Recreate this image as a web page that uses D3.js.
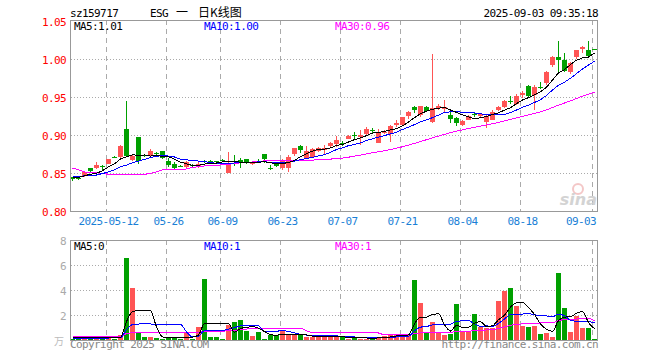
<!DOCTYPE html>
<html>
<head>
<meta charset="utf-8">
<script src="https://cdn.jsdelivr.net/npm/d3@7"></script>
<style>
  body { margin: 0; background: #fff; }
  svg { display: block; }
  text { font-family: "DejaVu Sans Mono", monospace; font-size: 11px; letter-spacing: -0.6px; }
</style>
</head>
<body>
<svg id="chart" width="660" height="360"></svg>
<script>
// trading days shown on the chart
const dates = [
  "2025-04-29","2025-04-30","2025-05-06","2025-05-07","2025-05-08","2025-05-09",
  "2025-05-12","2025-05-13","2025-05-14","2025-05-15","2025-05-16",
  "2025-05-19","2025-05-20","2025-05-21","2025-05-22","2025-05-23",
  "2025-05-26","2025-05-27","2025-05-28","2025-05-29","2025-05-30",
  "2025-06-03","2025-06-04","2025-06-05","2025-06-06",
  "2025-06-09","2025-06-10","2025-06-11","2025-06-12","2025-06-13",
  "2025-06-16","2025-06-17","2025-06-18","2025-06-19","2025-06-20",
  "2025-06-23","2025-06-24","2025-06-25","2025-06-26","2025-06-27",
  "2025-06-30","2025-07-01","2025-07-02","2025-07-03","2025-07-04",
  "2025-07-07","2025-07-08","2025-07-09","2025-07-10","2025-07-11",
  "2025-07-14","2025-07-15","2025-07-16","2025-07-17","2025-07-18",
  "2025-07-21","2025-07-22","2025-07-23","2025-07-24","2025-07-25",
  "2025-07-28","2025-07-29","2025-07-30","2025-07-31","2025-08-01",
  "2025-08-04","2025-08-05","2025-08-06","2025-08-07","2025-08-08",
  "2025-08-11","2025-08-12","2025-08-13","2025-08-14","2025-08-15",
  "2025-08-18","2025-08-19","2025-08-20","2025-08-21","2025-08-22",
  "2025-08-25","2025-08-26","2025-08-27","2025-08-28","2025-08-29",
  "2025-09-01","2025-09-02","2025-09-03"
];

const open = [
  0.845,0.844,0.847,0.857,0.857,0.860,0.862,0.872,0.872,0.909,
  0.868,0.898,0.874,0.874,0.877,0.879,0.867,0.863,0.860,0.858,
  0.861,0.858,0.867,0.867,0.866,0.868,0.851,0.866,0.868,0.869,
  0.862,0.867,0.876,0.857,0.862,0.857,0.858,0.875,0.886,0.870,
  0.872,0.880,0.882,0.886,0.889,0.890,0.896,0.901,0.899,0.903,
  0.907,0.891,0.904,0.901,0.914,0.914,0.926,0.937,0.927,0.938,
  0.918,0.936,0.935,0.927,0.923,0.914,0.921,0.928,0.925,0.918,
  0.921,0.933,0.937,0.945,0.942,0.953,0.965,0.953,0.964,0.968,
  0.992,1.003,1.000,0.984,1.003,1.014,1.013,1.014
];
const high = [
  0.845,0.845,0.853,0.857,0.865,0.861,0.869,0.873,0.888,0.946,
  0.874,0.898,0.875,0.882,0.878,0.880,0.870,0.865,0.861,0.866,
  0.862,0.866,0.868,0.868,0.867,0.869,0.878,0.874,0.871,0.869,
  0.866,0.869,0.876,0.861,0.863,0.869,0.874,0.884,0.888,0.886,
  0.883,0.885,0.887,0.892,0.900,0.893,0.901,0.904,0.907,0.911,
  0.910,0.909,0.907,0.914,0.920,0.924,0.932,0.939,0.939,0.939,
  1.007,0.941,0.947,0.933,0.925,0.920,0.927,0.929,0.929,0.927,
  0.933,0.939,0.947,0.952,0.954,0.959,0.966,0.966,0.971,0.985,
  1.004,1.024,1.008,0.997,1.013,1.018,1.024,1.014
];
const low = [
  0.840,0.842,0.846,0.852,0.856,0.855,0.862,0.870,0.871,0.872,
  0.866,0.862,0.872,0.873,0.874,0.869,0.859,0.855,0.858,0.857,
  0.858,0.857,0.864,0.864,0.864,0.865,0.851,0.860,0.857,0.862,
  0.861,0.864,0.864,0.854,0.858,0.854,0.852,0.873,0.877,0.869,
  0.870,0.878,0.874,0.885,0.885,0.886,0.895,0.896,0.888,0.901,
  0.902,0.890,0.902,0.891,0.911,0.913,0.922,0.930,0.925,0.932,
  0.917,0.933,0.931,0.917,0.913,0.913,0.920,0.925,0.924,0.910,
  0.920,0.932,0.936,0.941,0.940,0.949,0.950,0.934,0.961,0.967,
  0.990,0.982,0.984,0.981,1.001,1.008,1.002,1.012
];
const close = [
  0.843,0.843,0.852,0.853,0.861,0.859,0.869,0.871,0.886,0.874,
  0.873,0.866,0.873,0.879,0.876,0.870,0.862,0.858,0.859,0.865,
  0.860,0.862,0.866,0.866,0.865,0.867,0.864,0.865,0.864,0.864,
  0.865,0.866,0.869,0.856,0.859,0.866,0.872,0.883,0.881,0.879,
  0.882,0.884,0.884,0.890,0.894,0.889,0.900,0.900,0.901,0.909,
  0.906,0.905,0.905,0.912,0.917,0.924,0.931,0.933,0.939,0.933,
  0.936,0.939,0.938,0.922,0.917,0.919,0.926,0.927,0.928,0.926,
  0.931,0.937,0.945,0.944,0.952,0.956,0.952,0.964,0.963,0.983,
  1.003,0.999,0.986,0.996,1.012,1.017,1.005,1.013
];
// volume, in 万
const volume = [
  0.16,0.16,0.16,0.35,0.35,0.16,0.20,0.16,0.43,6.59,
  4.19,0.59,0.27,0.27,0.19,0.13,0.27,0.27,0.16,0.56,
  0.13,1.09,4.91,0.27,0.27,0.13,1.23,1.49,1.65,0.77,
  0.35,0.69,0.13,0.48,0.45,0.77,0.40,0.40,0.40,0.29,
  0.29,0.29,0.29,0.29,0.29,0.29,0.11,0.29,0.16,0.16,
  0.16,0.29,0.35,0.48,0.53,0.43,0.43,4.83,3.01,0.67,
  1.47,0.67,0.48,0.51,2.91,0.72,0.72,2.11,1.07,0.99,
  0.99,3.17,3.95,4.24,2.75,1.15,1.07,1.20,0.51,0.59,
  0.27,5.39,2.59,0.67,1.95,0.99,0.99,0.11
];

// averages before a full window is available (history lies left of the chart)
const ma5Head = [0.845, 0.845, 0.847, 0.849];
const ma10Head = [0.846, 0.846, 0.847, 0.847, 0.848, 0.850, 0.852, 0.855, 0.859];
const ma30Head = [
  0.857,0.855,0.852,0.851,0.851,0.850,0.849,0.849,0.849,0.849,
  0.849,0.849,0.849,0.850,0.852,0.855,0.855,0.855,0.855,0.856,
  0.858,0.859,0.860,0.860,0.860,0.862,0.862,0.863,0.864
];
const volMa5Head = [0.22, 0.22, 0.22, 0.24];
const volMa10Head = [0.20, 0.20, 0.20, 0.20, 0.20, 0.20, 0.20, 0.21, 0.22];
const volMa30Head = [
  0.33,0.33,0.33,0.33,0.33,0.33,0.33,0.33,0.33,0.55,
  0.61,0.61,0.61,0.61,0.61,0.61,0.61,0.61,0.61,0.61,
  0.61,0.64,0.75,0.75,0.75,0.75,0.78,0.82,0.87
];

const priceTicks = [0.80, 0.85, 0.90, 0.95, 1.00, 1.05];
const volTicks = [2, 4, 6, 8];
const tickDates = ["2025-05-12","2025-05-26","2025-06-09","2025-06-23","2025-07-07",
                   "2025-07-21","2025-08-04","2025-08-18","2025-09-03"];

const RED = "#ff5555", GREEN = "#00a000";
const GRID = "#aaaaaa";

const movingAvg = (values, n, head) =>
  values.map((v, i) => i < n - 1 ? head[i] : d3.mean(values.slice(i - n + 1, i + 1)));

const ma5 = movingAvg(close, 5, ma5Head);
const ma10 = movingAvg(close, 10, ma10Head);
const ma30 = movingAvg(close, 30, ma30Head);
const vma5 = movingAvg(volume, 5, volMa5Head);
const vma10 = movingAvg(volume, 10, volMa10Head);
const vma30 = movingAvg(volume, 30, volMa30Head);

const svg = d3.select("#chart");

const x = d3.scaleBand().domain(dates).range([69, 597]);
const y = d3.scaleLinear().domain([0.80, 1.05]).range([211.5, 21.5]);
const yv = d3.scaleLinear().domain([0, 8]).range([340.5, 240.5]);

const defs = svg.append("defs");
defs.append("clipPath").attr("id", "clipPrice")
  .append("rect").attr("x", 71).attr("y", 21).attr("width", 526).attr("height", 190);
defs.append("clipPath").attr("id", "clipVol")
  .append("rect").attr("x", 71).attr("y", 241).attr("width", 526).attr("height", 99);

// header
svg.append("text").attr("x", 70).attr("y", 17).text("sz159717");
svg.append("text").attr("x", 150).attr("y", 17).text("ESG");
svg.append("text").attr("x", 176).attr("y", 17)
  .style("font-family", "'Noto Sans CJK SC'").style("font-size", "12px").style("letter-spacing", "0")
  .text("一");
svg.append("text").attr("x", 198).attr("y", 17)
  .style("font-family", "'Noto Sans CJK SC'").style("font-size", "12px").style("letter-spacing", "0")
  .text("日K线图");
svg.append("text").attr("x", 598).attr("y", 17).attr("text-anchor", "end").text("2025-09-03 09:35:18");

// horizontal dotted grid
svg.append("g").selectAll("line").data(priceTicks.slice(1, -1)).join("line")
  .attr("x1", 71).attr("x2", 597).attr("y1", d => y(d)).attr("y2", d => y(d))
  .attr("stroke", GRID).attr("stroke-dasharray", "1,2");
svg.append("g").selectAll("line").data(volTicks.slice(0, -1)).join("line")
  .attr("x1", 71).attr("x2", 597).attr("y1", d => yv(d)).attr("y2", d => yv(d))
  .attr("stroke", GRID).attr("stroke-dasharray", "1,2");

// vertical dashed grid at the date ticks
const vgrid = svg.append("g");
[[20, 211], [240, 340]].forEach(([y1, y2]) => {
  vgrid.append("g").selectAll("line").data(tickDates).join("line")
    .attr("x1", d => x(d) + 1.5).attr("x2", d => x(d) + 1.5)
    .attr("y1", y1).attr("y2", y2)
    .attr("stroke", GRID).attr("stroke-dasharray", "5,4");
});

// watermark
const wm = svg.append("g").attr("opacity", 0.9);
wm.append("circle").attr("cx", 578).attr("cy", 189).attr("r", 5)
  .attr("fill", "none").attr("stroke", "#f3c2c2").attr("stroke-width", 2);
wm.append("text").attr("x", 597).attr("y", 205).attr("text-anchor", "end")
  .style("font-family", "'DejaVu Sans'").style("font-size", "16px").style("font-weight", "bold")
  .style("font-style", "italic").style("letter-spacing", "0").attr("fill", "#cfcfcf").text("sina");

// panel borders
svg.append("rect").attr("x", 70.5).attr("y", 20.5).attr("width", 527).attr("height", 191)
  .attr("fill", "none").attr("stroke", "#999");
svg.append("rect").attr("x", 70.5).attr("y", 240.5).attr("width", 527).attr("height", 100)
  .attr("fill", "none").attr("stroke", "#999");

// price axis labels
svg.append("g").selectAll("text").data(priceTicks).join("text")
  .attr("x", 66).attr("y", d => y(d) + 4).attr("text-anchor", "end")
  .attr("fill", "#ff0000").text(d => d.toFixed(2));

// volume axis labels
svg.append("g").selectAll("text").data(volTicks).join("text")
  .attr("x", 66).attr("y", d => yv(d) + 4).attr("text-anchor", "end")
  .attr("fill", "#aaa").text(d => d);
svg.append("text").attr("x", 64).attr("y", 345).attr("text-anchor", "end")
  .style("font-family", "'Noto Sans CJK SC'").style("font-size", "10px").style("letter-spacing", "0")
  .attr("fill", "#bbb").text("万");

// date labels (the last one is kept inside the panel)
const lastTick = tickDates.length - 1;
svg.append("g").selectAll("text").data(tickDates).join("text")
  .attr("x", (d, i) => i === lastTick ? 596 : x(d) + 3.5).attr("y", 225)
  .attr("text-anchor", (d, i) => i === lastTick ? "end" : "middle")
  .attr("fill", "#1a7fd6").text((d, i) => i === 0 ? d : d.slice(5));

// candles
const idx = d3.range(dates.length);
const candles = svg.append("g").attr("clip-path", "url(#clipPrice)")
  .attr("shape-rendering", "crispEdges");
const colorOf = i => close[i] >= open[i] ? RED : GREEN;
candles.selectAll("line").data(idx).join("line")
  .attr("x1", i => x(dates[i]) + 3.5).attr("x2", i => x(dates[i]) + 3.5)
  .attr("y1", i => y(high[i])).attr("y2", i => y(low[i]))
  .attr("stroke", colorOf);
candles.selectAll("rect").data(idx).join("rect")
  .attr("x", i => x(dates[i]) + 1).attr("width", 5)
  .attr("y", i => Math.round(y(Math.max(open[i], close[i]))))
  .attr("height", i => Math.max(1, Math.round(Math.abs(y(open[i]) - y(close[i])))))
  .attr("fill", colorOf);

// price moving averages
const priceLine = d3.line().x((d, i) => x(dates[i]) + 3.5).y(d => y(d));
const maG = svg.append("g").attr("clip-path", "url(#clipPrice)").attr("fill", "none")
  .attr("shape-rendering", "crispEdges");
[[ma30, "#ff00ff"], [ma10, "#0000ff"], [ma5, "#000000"]].forEach(([vals, c]) => {
  maG.append("path").attr("d", priceLine(vals)).attr("stroke", c).attr("stroke-width", 1);
});

// volume bars
svg.append("g").attr("clip-path", "url(#clipVol)").attr("shape-rendering", "crispEdges")
  .selectAll("rect").data(idx).join("rect")
  .attr("x", i => x(dates[i]) + 1).attr("width", 5)
  .attr("y", i => Math.round(yv(volume[i])))
  .attr("height", i => Math.max(1, 340 - Math.round(yv(volume[i]))))
  .attr("fill", colorOf);

// volume moving averages
const volLine = d3.line().x((d, i) => x(dates[i]) + 3.5).y(d => yv(d)).curve(d3.curveMonotoneX);
const vmaG = svg.append("g").attr("clip-path", "url(#clipVol)").attr("fill", "none")
  .attr("shape-rendering", "crispEdges");
[[vma30, "#ff00ff"], [vma10, "#0000ff"], [vma5, "#000000"]].forEach(([vals, c]) => {
  vmaG.append("path").attr("d", volLine(vals)).attr("stroke", c).attr("stroke-width", 1);
});

// legends
const last = a => a[a.length - 1];
const fmt2 = d3.format(".2f");
svg.append("text").attr("x", 74).attr("y", 30).attr("fill", "#000").text("MA5:" + fmt2(last(ma5)));
svg.append("text").attr("x", 204).attr("y", 30).attr("fill", "#0000ff").text("MA10:" + fmt2(last(ma10)));
svg.append("text").attr("x", 335).attr("y", 30).attr("fill", "#ff00ff").text("MA30:" + fmt2(last(ma30)));
svg.append("text").attr("x", 74).attr("y", 250).attr("fill", "#000").text("MA5:" + Math.floor(last(vma5)));
svg.append("text").attr("x", 204).attr("y", 250).attr("fill", "#0000ff").text("MA10:" + Math.floor(last(vma10)));
svg.append("text").attr("x", 335).attr("y", 250).attr("fill", "#ff00ff").text("MA30:" + Math.floor(last(vma30)));

// footer
svg.append("text").attr("x", 70).attr("y", 348).attr("fill", "#888").text("Copyright 2025 SINA.COM");
svg.append("text").attr("x", 598).attr("y", 348).attr("text-anchor", "end").attr("fill", "#888")
  .text("http://finance.sina.com.cn");
</script>
</body>
</html>
